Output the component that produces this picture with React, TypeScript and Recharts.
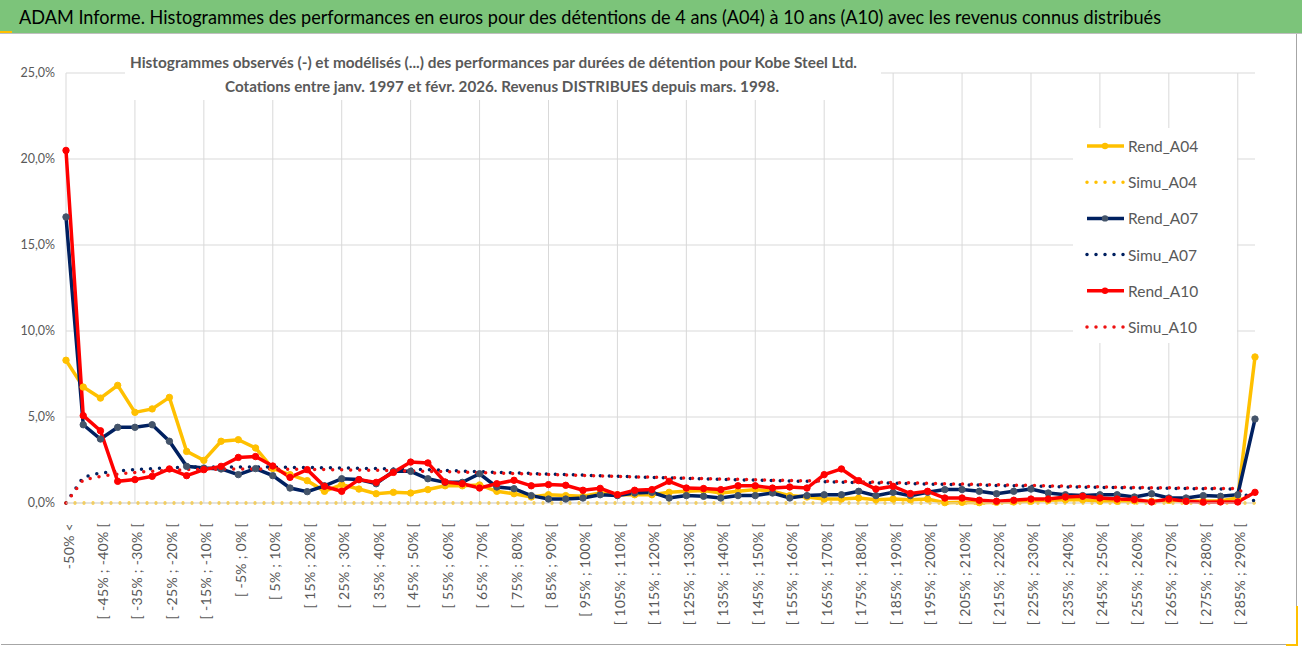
import { LineChart, Line, XAxis, YAxis, CartesianGrid, Legend } from "recharts";

const FONT = "Lato, 'Open Sans', sans-serif";
const TEXT = "#595959";
const GRID = "#d9d9d9";

const categories = [
  "-50% <", "[ -50% ; -45% [", "[ -45% ; -40% [", "[ -40% ; -35% [", "[ -35% ; -30% [",
  "[ -30% ; -25% [", "[ -25% ; -20% [", "[ -20% ; -15% [", "[ -15% ; -10% [", "[ -10% ; -5% [",
  "[ -5% ; 0% [", "[ 0% ; 5% [", "[ 5% ; 10% [", "[ 10% ; 15% [", "[ 15% ; 20% [",
  "[ 20% ; 25% [", "[ 25% ; 30% [", "[ 30% ; 35% [", "[ 35% ; 40% [", "[ 40% ; 45% [",
  "[ 45% ; 50% [", "[ 50% ; 55% [", "[ 55% ; 60% [", "[ 60% ; 65% [", "[ 65% ; 70% [",
  "[ 70% ; 75% [", "[ 75% ; 80% [", "[ 80% ; 85% [", "[ 85% ; 90% [", "[ 90% ; 95% [",
  "[ 95% ; 100% [", "[ 100% ; 105% [", "[ 105% ; 110% [", "[ 110% ; 115% [", "[ 115% ; 120% [",
  "[ 120% ; 125% [", "[ 125% ; 130% [", "[ 130% ; 135% [", "[ 135% ; 140% [", "[ 140% ; 145% [",
  "[ 145% ; 150% [", "[ 150% ; 155% [", "[ 155% ; 160% [", "[ 160% ; 165% [", "[ 165% ; 170% [",
  "[ 170% ; 175% [", "[ 175% ; 180% [", "[ 180% ; 185% [", "[ 185% ; 190% [", "[ 190% ; 195% [",
  "[ 195% ; 200% [", "[ 200% ; 205% [", "[ 205% ; 210% [", "[ 210% ; 215% [", "[ 215% ; 220% [",
  "[ 220% ; 225% [", "[ 225% ; 230% [", "[ 230% ; 235% [", "[ 235% ; 240% [", "[ 240% ; 245% [",
  "[ 245% ; 250% [", "[ 250% ; 255% [", "[ 255% ; 260% [", "[ 260% ; 265% [", "[ 265% ; 270% [",
  "[ 270% ; 275% [", "[ 275% ; 280% [", "[ 280% ; 285% [", "[ 285% ; 290% [", "> 290%",
];

// observed histograms (%)
const rendA04 = [
  8.3, 6.74, 6.1, 6.84, 5.27, 5.47, 6.14, 3.0, 2.48, 3.59,
  3.68, 3.2, 2.0, 1.65, 1.3, 0.68, 1.07, 0.81, 0.54, 0.62,
  0.58, 0.78, 1.0, 1.0, 1.05, 0.68, 0.54, 0.35, 0.48, 0.43,
  0.39, 0.58, 0.48, 0.48, 0.48, 0.62, 0.68, 0.72, 0.58, 0.68,
  0.78, 0.68, 0.43, 0.35, 0.23, 0.23, 0.29, 0.19, 0.23, 0.19,
  0.23, 0.02, 0.04, 0.02, 0.04, 0.06, 0.1, 0.16, 0.19, 0.19,
  0.1, 0.1, 0.12, 0.1, 0.15, 0.1, 0.12, 0.12, 0.3, 8.49,
];
const rendA07 = [
  16.63, 4.55, 3.72, 4.4, 4.4, 4.55, 3.59, 2.13, 2.03, 1.98,
  1.65, 2.0, 1.59, 0.87, 0.66, 1.0, 1.41, 1.36, 1.12, 1.84,
  1.84, 1.41, 1.2, 1.2, 1.7, 0.93, 0.83, 0.43, 0.23, 0.23,
  0.29, 0.48, 0.43, 0.58, 0.62, 0.29, 0.43, 0.39, 0.29, 0.43,
  0.43, 0.58, 0.29, 0.43, 0.48, 0.48, 0.68, 0.43, 0.62, 0.43,
  0.62, 0.78, 0.78, 0.68, 0.54, 0.68, 0.81, 0.58, 0.48, 0.43,
  0.48, 0.48, 0.35, 0.54, 0.29, 0.29, 0.43, 0.39, 0.48, 4.88,
];
const rendA10 = [
  20.5, 5.08, 4.2, 1.26, 1.36, 1.55, 1.98, 1.59, 1.94, 2.13,
  2.65, 2.7, 2.15, 1.49, 1.94, 0.97, 0.68, 1.36, 1.2, 1.78,
  2.38, 2.33, 1.22, 1.12, 0.87, 1.12, 1.32, 1.0, 1.07, 1.03,
  0.74, 0.85, 0.48, 0.74, 0.78, 1.26, 0.87, 0.84, 0.78, 1.0,
  1.0, 0.87, 0.93, 0.87, 1.65, 1.98, 1.3, 0.81, 0.97, 0.55,
  0.68, 0.29, 0.29, 0.16, 0.1, 0.16, 0.23, 0.23, 0.35, 0.39,
  0.29, 0.23, 0.2, 0.06, 0.23, 0.1, 0.05, 0.06, 0.06, 0.62,
];

// modelled histograms (%)
const simuA04 = [
  0, 0, 0, 0, 0, 0, 0, 0, 0, 0,
  0, 0, 0, 0, 0, 0, 0, 0, 0, 0,
  0, 0, 0, 0, 0, 0, 0, 0, 0, 0,
  0, 0, 0, 0, 0, 0, 0, 0, 0, 0,
  0, 0, 0, 0, 0, 0, 0, 0, 0, 0,
  0, 0, 0, 0, 0, 0, 0, 0, 0, 0,
  0, 0, 0, 0, 0, 0, 0, 0, 0, 0,
];
const simuA07 = [
  0, 1.5, 1.75, 1.85, 1.95, 2.0, 2.05, 2.08, 2.1, 2.1,
  2.1, 2.1, 2.08, 2.07, 2.06, 2.05, 2.04, 2.02, 2.0, 1.98,
  1.96, 1.93, 1.9, 1.86, 1.82, 1.78, 1.75, 1.72, 1.68, 1.65,
  1.62, 1.59, 1.56, 1.52, 1.49, 1.46, 1.43, 1.4, 1.37, 1.35,
  1.33, 1.3, 1.28, 1.26, 1.24, 1.21, 1.19, 1.17, 1.15, 1.13,
  1.1, 1.08, 1.06, 1.04, 1.02, 1.0, 0.98, 0.96, 0.94, 0.92,
  0.91, 0.89, 0.87, 0.86, 0.85, 0.84, 0.83, 0.82, 0.8, 0.08,
];
const simuA10 = [
  0, 1.35, 1.55, 1.68, 1.78, 1.85, 1.9, 1.94, 1.96, 1.97,
  1.98, 1.98, 1.97, 1.96, 1.95, 1.94, 1.93, 1.92, 1.9, 1.88,
  1.86, 1.84, 1.82, 1.79, 1.76, 1.74, 1.71, 1.68, 1.66, 1.63,
  1.6, 1.58, 1.55, 1.52, 1.5, 1.47, 1.45, 1.42, 1.4, 1.38,
  1.35, 1.33, 1.31, 1.29, 1.27, 1.25, 1.23, 1.21, 1.19, 1.17,
  1.14, 1.12, 1.1, 1.08, 1.06, 1.04, 1.02, 1.0, 0.98, 0.96,
  0.94, 0.92, 0.9, 0.89, 0.88, 0.87, 0.86, 0.85, 0.83, 0.1,
];

const yTicks = [0, 5, 10, 15, 20, 25];

const series = [
  { key: "Rend_A04", values: rendA04, color: "#FFC000", marker: "#FFC000", dotted: false },
  { key: "Simu_A04", values: simuA04, color: "#FFC000", marker: "", dotted: true },
  { key: "Rend_A07", values: rendA07, color: "#002060", marker: "#44546A", dotted: false },
  { key: "Simu_A07", values: simuA07, color: "#002060", marker: "", dotted: true },
  { key: "Rend_A10", values: rendA10, color: "#FF0000", marker: "#FF0000", dotted: false },
  { key: "Simu_A10", values: simuA10, color: "#EE1111", marker: "", dotted: true },
];

const data = categories.map((cat, i) => {
  const row: Record<string, string | number> = { cat };
  series.forEach(s => { row[s.key] = s.values[i]; });
  return row;
});

const DOTS = "0 9";

function XTick(props: any) {
  const { x, y, payload } = props;
  const tx = x + 2;
  const ty = y + 18;
  return (
    <text x={tx} y={ty} transform={`rotate(-90 ${tx} ${ty})`} textAnchor="end" dominantBaseline="central"
      fontSize={14} letterSpacing={0.3} fill={TEXT} fontFamily={FONT}>
      {payload.value}
    </text>
  );
}

function LegendBox() {
  return (
    <div style={{ width: 164, height: 215, background: "#fff" }}>
      <svg width={164} height={215}>
        {series.map((s, i) => {
          const cy = 18 + i * 36.2;
          return (
            <g key={s.key}>
              <line x1={14} x2={51} y1={cy} y2={cy} stroke={s.color} strokeWidth={3.5}
                strokeDasharray={s.dotted ? DOTS : undefined} strokeLinecap={s.dotted ? "round" : "butt"} />
              {!s.dotted && <circle cx={32} cy={cy} r={3.2} fill={s.marker} />}
              <text x={55} y={cy} dominantBaseline="central" fontSize={15.5} fill={TEXT} fontFamily={FONT}>{s.key}</text>
            </g>
          );
        })}
      </svg>
    </div>
  );
}

export default function App() {
  const gridX = ({ offset }: any) =>
    categories.map((_, i) => i).filter(i => i % 4 === 0)
      .map(i => offset.left + (offset.width * i) / (categories.length - 1));

  return (
    <div style={{ position: "absolute", left: 0, top: 0, width: 1302, height: 647, background: "#fff", fontFamily: FONT, overflow: "hidden" }}>
      {/* title bar */}
      <svg width={1302} height={34} style={{ position: "absolute", left: 0, top: 0 }}>
        <rect x={0} y={0} width={1302} height={33} fill="#7cc47a" />
        <line x1={0} x2={1302} y1={33.5} y2={33.5} stroke="#bfbfbf" />
        <rect x={0} y={31} width={12} height={2} fill="#FFC000" />
        <text x={19} y={24} fontSize={20} fill="#000" textLength={1142} lengthAdjust="spacingAndGlyphs" fontFamily={FONT}>
          ADAM Informe. Histogrammes des performances en euros pour des détentions de 4 ans (A04) à 10 ans (A10) avec les revenus connus distribués
        </text>
      </svg>
      {/* chart frame */}
      <div style={{ position: "absolute", left: 1, top: 34, width: 1295, height: 610, borderRight: "1px solid #a6a6a6", borderBottom: "1px solid #a6a6a6", background: "#fff" }} />
      <div style={{ position: "absolute", left: 1296, top: 606, width: 2, height: 40, background: "#FFC000" }} />
      <div style={{ position: "absolute", left: 1286, top: 644, width: 12, height: 2, background: "#FFC000" }} />
      <div style={{ position: "absolute", left: 0, top: 0 }}>
        <LineChart width={1302} height={647} data={data} margin={{ top: 73, right: 47, bottom: 0, left: 0 }}>
          <CartesianGrid stroke={GRID} verticalCoordinatesGenerator={gridX} />
          <XAxis dataKey="cat" interval={1} tick={<XTick />} tickLine={false} tickSize={0} height={144}
            axisLine={{ stroke: GRID }} />
          <YAxis domain={[0, 25]} ticks={yTicks} width={66} axisLine={false} tickLine={false} tickSize={0} tickMargin={11}
            tickFormatter={(v: number) => v.toFixed(1).replace(".", ",") + "%"}
            tick={{ fontSize: 12.5, fill: TEXT, fontFamily: FONT }} />
          <Legend layout="vertical" align="center" verticalAlign="middle" content={<LegendBox />}
            wrapperStyle={{ left: 1073, top: 128, width: 164, height: 215 }} />
          {series.map(s => s.dotted ? (
            <Line key={s.key} dataKey={s.key} type="linear" stroke={s.color} strokeWidth={3.5}
              strokeDasharray={DOTS} strokeLinecap="round" dot={false} activeDot={false} isAnimationActive={false} />
          ) : (
            <Line key={s.key} dataKey={s.key} type="linear" stroke={s.color} strokeWidth={3.5}
              dot={{ r: 3.2, fill: s.marker, stroke: s.marker, strokeWidth: 1 }} activeDot={false} isAnimationActive={false} />
          ))}
        </LineChart>
      </div>
      {/* chart title */}
      <svg width={1000} height={60} style={{ position: "absolute", left: 100, top: 42 }}>
        <rect x={25} y={2} width={756} height={56} fill="#fff" />
        <text x={30} y={26} fontSize={15} fontWeight="bold" fill={TEXT} textLength={727} lengthAdjust="spacingAndGlyphs" fontFamily={FONT}>
          Histogrammes observés (-) et modélisés (...) des performances par durées de détention pour Kobe Steel Ltd.
        </text>
        <text x={125} y={50} fontSize={15} fontWeight="bold" fill={TEXT} textLength={554} lengthAdjust="spacingAndGlyphs" fontFamily={FONT}>
          Cotations entre janv. 1997 et févr. 2026. Revenus DISTRIBUES depuis mars. 1998.
        </text>
      </svg>
    </div>
  );
}
